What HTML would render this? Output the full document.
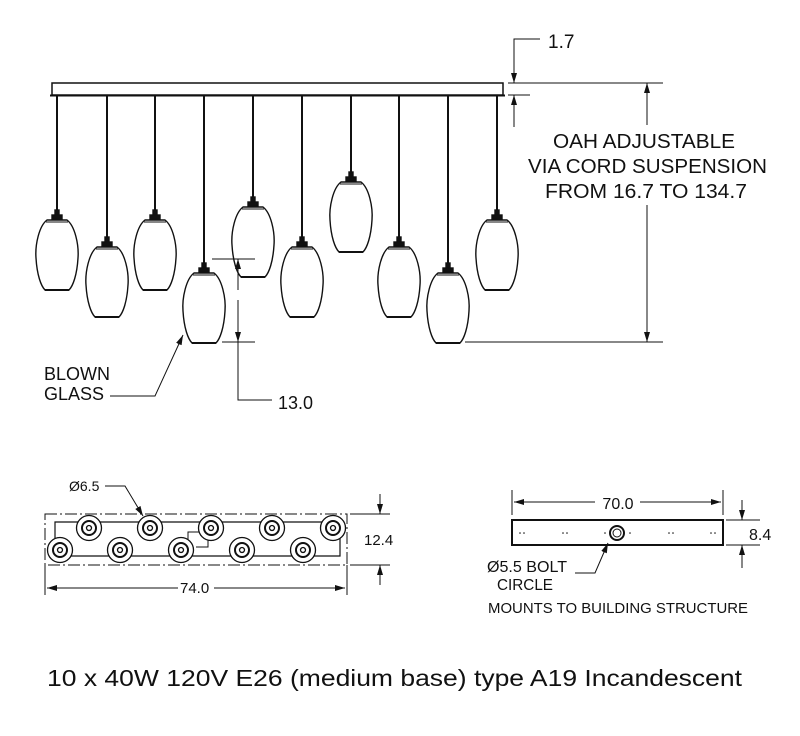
<!DOCTYPE html>
<html><head><meta charset="utf-8"><style>
html,body{margin:0;padding:0;background:#fff;}
svg{display:block;}
text{font-family:"Liberation Sans",sans-serif;fill:#111;}
</style></head><body>
<svg width="800" height="736" viewBox="0 0 800 736" xmlns="http://www.w3.org/2000/svg">
<defs>
<marker id="a" viewBox="0 0 10 10" refX="10" refY="5" markerWidth="10" markerHeight="10" markerUnits="userSpaceOnUse" orient="auto"><path d="M0,2 L10,5 L0,8 Z" fill="#111"/></marker>
<g id="pd" stroke="#111" fill="none" stroke-width="1.4">
<rect x="-2" y="-10" width="4" height="5" fill="#111"/>
<rect x="-5" y="-5" width="10" height="4" fill="#111"/>
<path d="M-10 0 L10 0 C18 6 22 25 21 38 C20 55 16 66 12 70 L-12 70 C-16 66 -20 55 -21 38 C-22 25 -18 6 -10 0 Z"/>
<line x1="-12" y1="70" x2="12" y2="70" stroke-width="2"/>
<line x1="-11" y1="2" x2="11" y2="2" stroke-width="1"/>
</g>
<g id="cc" stroke="#111">
<circle r="12.5" fill="#fff" stroke-width="1.3"/>
<circle r="7" fill="none" stroke-width="2"/>
<circle r="2.5" fill="none" stroke-width="1.3"/>
</g>
</defs>
<g stroke="#111" fill="none" stroke-width="1.3">
<rect x="52" y="83" width="451" height="12" stroke-width="1.5"/>
<line x1="50" y1="95.5" x2="505" y2="95.5" stroke-width="2"/>
</g>
<g stroke="#111" stroke-width="2">
<line x1="57" y1="96" x2="57" y2="212"/>
<line x1="107" y1="96" x2="107" y2="239"/>
<line x1="155" y1="96" x2="155" y2="212"/>
<line x1="204" y1="96" x2="204" y2="265"/>
<line x1="253" y1="96" x2="253" y2="199"/>
<line x1="302" y1="96" x2="302" y2="239"/>
<line x1="351" y1="96" x2="351" y2="174"/>
<line x1="399" y1="96" x2="399" y2="239"/>
<line x1="448" y1="96" x2="448" y2="265"/>
<line x1="497" y1="96" x2="497" y2="212"/>
</g>
<use href="#pd" x="57" y="220"/>
<use href="#pd" x="107" y="247"/>
<use href="#pd" x="155" y="220"/>
<use href="#pd" x="204" y="273"/>
<use href="#pd" x="253" y="207"/>
<use href="#pd" x="302" y="247"/>
<use href="#pd" x="351" y="182"/>
<use href="#pd" x="399" y="247"/>
<use href="#pd" x="448" y="273"/>
<use href="#pd" x="497" y="220"/>
<g stroke="#111" fill="none" stroke-width="1">
<line x1="212" y1="259" x2="255" y2="259"/>
<line x1="222" y1="342" x2="255" y2="342"/>
<line x1="238" y1="290" x2="238" y2="259" marker-end="url(#a)"/>
<line x1="238" y1="300" x2="238" y2="342" marker-end="url(#a)"/>
<polyline points="238,342 238,400 272,400"/>
<polyline points="110,396 155,396 183,335" marker-end="url(#a)"/>
<polyline points="540,39 514,39 514,83" marker-end="url(#a)"/>
<line x1="514" y1="127" x2="514" y2="95" marker-end="url(#a)"/>
<line x1="508" y1="83" x2="663" y2="83"/>
<line x1="508" y1="95" x2="530" y2="95"/>
<line x1="647" y1="125" x2="647" y2="83" marker-end="url(#a)"/>
<line x1="647" y1="205" x2="647" y2="342" marker-end="url(#a)"/>
<line x1="465" y1="342" x2="663" y2="342"/>
</g>
<text x="548" y="48" font-size="19">1.7</text>
<text x="553" y="148" font-size="20" textLength="182" lengthAdjust="spacingAndGlyphs">OAH ADJUSTABLE</text>
<text x="528" y="173" font-size="20" textLength="239" lengthAdjust="spacingAndGlyphs">VIA CORD SUSPENSION</text>
<text x="545" y="198" font-size="20" textLength="202" lengthAdjust="spacingAndGlyphs">FROM 16.7 TO 134.7</text>
<text x="44" y="380" font-size="18">BLOWN</text>
<text x="44" y="400" font-size="18">GLASS</text>
<text x="278" y="409" font-size="18">13.0</text>

<g stroke="#111" fill="none" stroke-width="1">
<rect x="45" y="514" width="302" height="51" stroke-dasharray="12,3,2,3"/>
<polyline points="55,550 55,522 340,522 340,556 55,556" stroke-width="1.2"/>
<polyline points="188,540 188,532 200,532"/>
<polyline points="196,547 208,547 208,538"/>
<line x1="45" y1="565" x2="45" y2="595"/>
<line x1="347" y1="565" x2="347" y2="595"/>
<line x1="178" y1="588" x2="47" y2="588" marker-end="url(#a)"/>
<line x1="214" y1="588" x2="345" y2="588" marker-end="url(#a)"/>
<line x1="350" y1="514" x2="390" y2="514"/>
<line x1="350" y1="565" x2="390" y2="565"/>
<line x1="380" y1="494" x2="380" y2="514" marker-end="url(#a)"/>
<line x1="380" y1="585" x2="380" y2="565" marker-end="url(#a)"/>
<polyline points="105,486 125,486 143,516" marker-end="url(#a)"/>
</g>
<use href="#cc" x="89" y="528"/>
<use href="#cc" x="150" y="528"/>
<use href="#cc" x="211" y="528"/>
<use href="#cc" x="272" y="528"/>
<use href="#cc" x="333" y="528"/>
<use href="#cc" x="60" y="550"/>
<use href="#cc" x="120" y="550"/>
<use href="#cc" x="181" y="550"/>
<use href="#cc" x="242" y="550"/>
<use href="#cc" x="303" y="550"/>
<text x="69" y="491" font-size="14">Ø6.5</text>
<text x="364" y="545" font-size="15">12.4</text>
<text x="180" y="593" font-size="15">74.0</text>

<g stroke="#111" fill="none" stroke-width="1">
<rect x="512" y="520" width="211" height="25" stroke-width="2"/>
<line x1="512" y1="490" x2="512" y2="515"/>
<line x1="723" y1="490" x2="723" y2="515"/>
<line x1="595" y1="502" x2="514" y2="502" marker-end="url(#a)"/>
<line x1="640" y1="502" x2="721" y2="502" marker-end="url(#a)"/>
<line x1="726" y1="520" x2="760" y2="520"/>
<line x1="726" y1="545" x2="760" y2="545"/>
<line x1="742" y1="500" x2="742" y2="520" marker-end="url(#a)"/>
<line x1="742" y1="568" x2="742" y2="545" marker-end="url(#a)"/>
<circle cx="617" cy="533" r="7" stroke-width="2"/>
<circle cx="617" cy="533" r="4"/>
<polyline points="575,573 595,573 608,543" marker-end="url(#a)"/>
</g>
<g fill="#111">
<circle cx="520" cy="533" r="0.8"/><circle cx="524" cy="533" r="0.8"/>
<circle cx="563" cy="533" r="0.8"/><circle cx="567" cy="533" r="0.8"/>
<circle cx="605" cy="533" r="0.8"/><circle cx="630" cy="533" r="0.8"/>
<circle cx="669" cy="533" r="0.8"/><circle cx="673" cy="533" r="0.8"/>
<circle cx="711" cy="533" r="0.8"/><circle cx="715" cy="533" r="0.8"/>
</g>
<text x="618" y="509" font-size="16" text-anchor="middle">70.0</text>
<text x="749" y="540" font-size="16">8.4</text>
<text x="487" y="572" font-size="16" textLength="80" lengthAdjust="spacingAndGlyphs">Ø5.5 BOLT</text>
<text x="497" y="590" font-size="16" textLength="56" lengthAdjust="spacingAndGlyphs">CIRCLE</text>
<text x="488" y="613" font-size="14.5" textLength="260" lengthAdjust="spacingAndGlyphs">MOUNTS TO BUILDING STRUCTURE</text>

<text x="47" y="686" font-size="23" textLength="695" lengthAdjust="spacingAndGlyphs">10 x 40W 120V E26 (medium base) type A19 Incandescent</text>
</svg>
</body></html>
